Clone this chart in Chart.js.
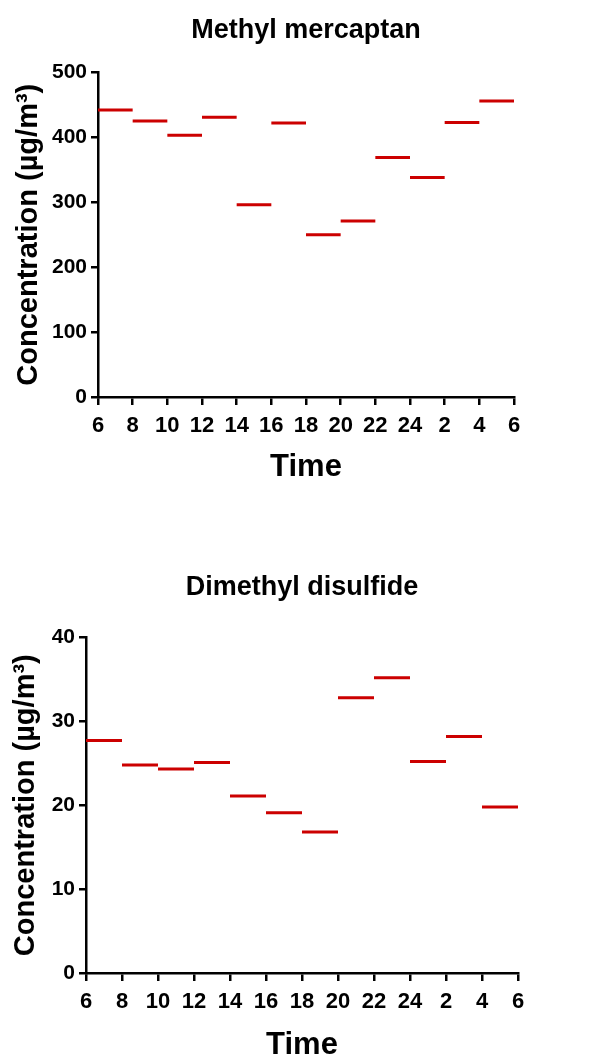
<!DOCTYPE html>
<html>
<head>
<meta charset="utf-8">
<script src="https://cdn.jsdelivr.net/npm/chart.js@4/dist/chart.umd.min.js"></script>
<style>
  html, body { margin: 0; padding: 0; background: #fff; }
  #wrap { position: relative; width: 612px; height: 1061px; overflow: hidden; }
  canvas { position: absolute; left: 0; }
</style>
</head>
<body>
<div id="wrap">
  <canvas id="mercaptanChart" width="612" height="500" style="top:0px"></canvas>
  <canvas id="disulfideChart" width="612" height="521" style="top:540px"></canvas>
</div>
<script>
// x axis: 2-hour sampling windows from 6 am to 6 am the next day
const timeLabels = ['6', '8', '10', '12', '14', '16', '18', '20', '22', '24', '2', '4', '6'];

// mean concentration for each 2-hour window (µg/m³)
const methylMercaptan = [442, 425, 403, 431, 296, 422, 250, 271, 369, 338, 423, 456];
const dimethylDisulfide = [27.7, 24.8, 24.3, 25.1, 21.1, 19.1, 16.8, 32.8, 35.2, 25.2, 28.2, 19.8];

const FONT = "'Liberation Sans', Arial, Helvetica, sans-serif";

// each window becomes one flat segment, broken from the next by a null
const toSegments = (values) => {
  const pts = [];
  values.forEach((v, i) => {
    pts.push({ x: i, y: v }, { x: i + 1, y: v }, { x: i + 1, y: null });
  });
  return pts;
};

const makeChart = (canvas, cfg) => {
  new Chart(canvas, {
    type: 'line',
    data: {
      datasets: [
        {
          data: toSegments(cfg.values),
          borderColor: 'rgb(204, 0, 0)',
          borderWidth: 3,
          pointRadius: 0,
          spanGaps: false,
          tension: 0,
        },
      ],
    },
    options: {
      responsive: false,
      animation: false,
      layout: { padding: { left: 0, right: cfg.padRight, top: 0, bottom: 0 } },
      plugins: {
        legend: { display: false },
        tooltip: { enabled: false },
        title: {
          display: true,
          fullSize: false,
          text: cfg.title,
          color: '#000',
          font: { family: FONT, size: 27, weight: 'bold', lineHeight: 1.2 },
          padding: cfg.titlePad,
        },
      },
      scales: {
        x: {
          type: 'linear',
          min: 0,
          max: 12,
          afterFit: (scale) => { scale.height = cfg.xHeight; },
          border: { color: '#000', width: 2.5 },
          grid: { drawOnChartArea: false, drawTicks: true, tickLength: 8, color: '#000', lineWidth: 2.5 },
          ticks: {
            stepSize: 1,
            autoSkip: false,
            maxRotation: 0,
            padding: 8,
            color: '#000',
            font: { family: FONT, size: 22, weight: 'bold' },
            callback: (v) => timeLabels[v],
          },
          title: {
            display: true,
            text: 'Time',
            color: '#000',
            font: { family: FONT, size: 31, weight: 'bold', lineHeight: 1.2 },
            padding: { top: 0, bottom: cfg.timePad },
          },
        },
        y: {
          min: 0,
          max: cfg.max,
          afterFit: (scale) => { scale.width = cfg.yWidth; },
          border: { color: '#000', width: 2.5 },
          grid: { drawOnChartArea: false, drawTicks: true, tickLength: 7, color: '#000', lineWidth: 2.5 },
          ticks: {
            stepSize: cfg.step,
            padding: 4,
            color: '#000',
            font: { family: FONT, size: 21, weight: 'bold' },
          },
          title: {
            display: true,
            text: 'Concentration (µg/m³)',
            color: '#000',
            font: { family: FONT, size: 29, weight: 'bold', lineHeight: 1.2 },
            padding: { top: cfg.concPad, bottom: 0 },
          },
        },
      },
    },
  });
};

makeChart(document.getElementById('mercaptanChart'), {
  title: 'Methyl mercaptan',
  values: methylMercaptan,
  max: 500,
  step: 100,
  titlePad: { top: 14, bottom: 26 },
  xHeight: 103,
  timePad: 14,
  yWidth: 98,
  concPad: 12,
  padRight: 98,
});

makeChart(document.getElementById('disulfideChart'), {
  title: 'Dimethyl disulfide',
  values: dimethylDisulfide,
  max: 40,
  step: 10,
  titlePad: { top: 31, bottom: 34 },
  xHeight: 88,
  timePad: -3,
  yWidth: 86,
  concPad: 9,
  padRight: 94,
});
</script>
</body>
</html>
